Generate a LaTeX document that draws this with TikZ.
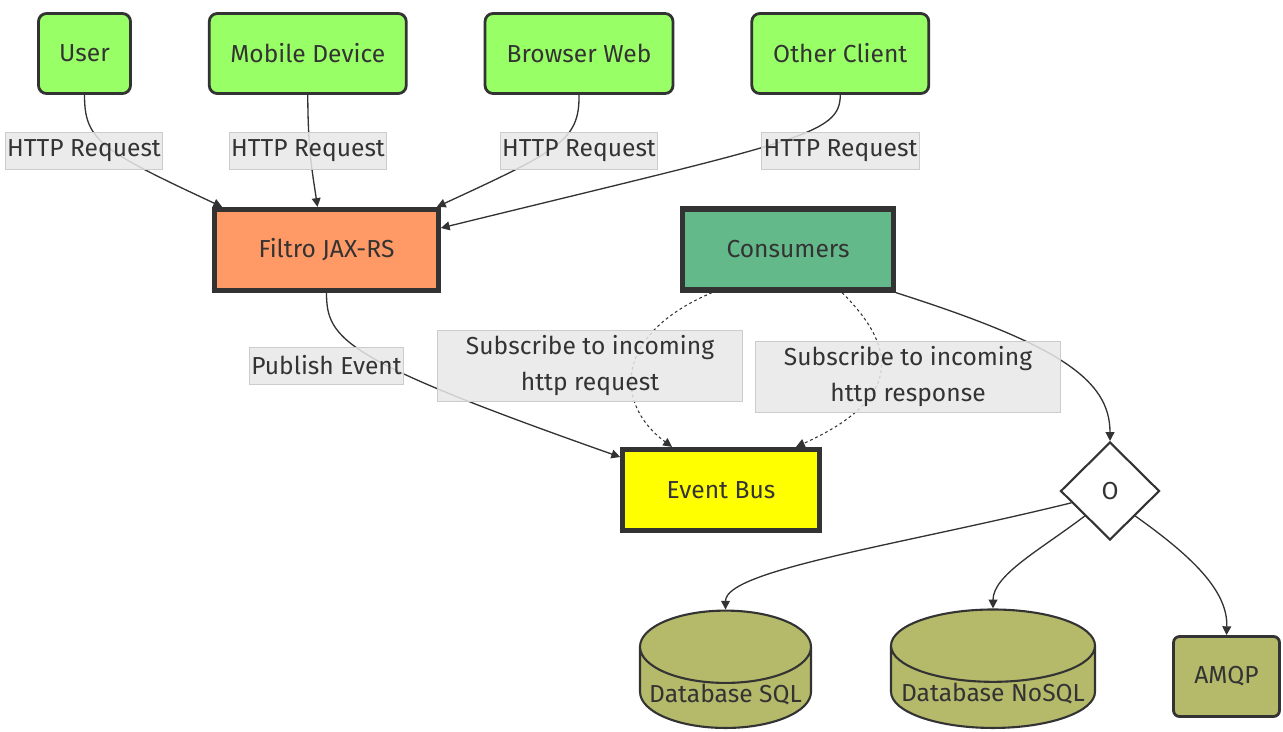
\documentclass[tikz,border=0pt]{standalone}
\usepackage{fontspec}
\setmainfont{Fira Sans}
\usetikzlibrary{arrows.meta, positioning, shapes.geometric}
\definecolor{ink}{HTML}{333333}
\definecolor{clientfill}{HTML}{99FF66}
\definecolor{filterfill}{HTML}{FF9966}
\definecolor{consumerfill}{HTML}{64B98A}
\definecolor{busfill}{HTML}{FFFF00}
\definecolor{storefill}{HTML}{B5B96A}
\definecolor{lblfill}{HTML}{E8E8E8}
\definecolor{lblline}{HTML}{CCCCCC}

\begin{document}
\begin{tikzpicture}[
        x=0.02cm, y=-0.02cm,
        font=\fontsize{14}{20.5}\selectfont,
        text=ink,
        node distance=1.52cm,
        client/.style={draw=ink, line width=1.6pt, fill=clientfill, rounded corners=1.6mm, minimum height=1.6cm},
        core/.style={draw=ink, line width=3pt, minimum height=1.62cm},
        store/.style={cylinder, shape border rotate=90, draw=ink, line width=1.2pt, fill=storefill, minimum height=1.48cm, inner ysep=0pt, anchor=bottom},
        lbl/.style={fill=lblfill, fill opacity=0.85, text opacity=1, draw=lblline, line width=0.5pt, inner xsep=1pt, inner ysep=3pt, minimum height=0.74cm, align=center},
        flow/.style={draw=ink, line width=0.75pt, -{Triangle[length=5pt, width=5pt]}},
        sub/.style={flow, dash pattern=on 1.6pt off 1.6pt, line width=0.6pt}
    ]
        % clients
        \node[client, minimum width=1.84cm] (user) at (84.5,53.5) {User};
        \node[client, minimum width=3.94cm, right=of user] (mobile) {Mobile Device};
        \node[client, minimum width=3.76cm, right=of mobile] (browser) {Browser Web};
        \node[client, minimum width=3.54cm, right=of browser] (other) {Other Client};

        % core
        \node[core, fill=filterfill, minimum width=4.47cm] (filtro) at (326.5,250) {Filtro JAX-RS};
        \node[core, fill=consumerfill, minimum width=4.21cm] (consumers) at (788,249.5) {Consumers};
        \node[core, fill=busfill, minimum width=3.93cm] (bus) at (721,490) {Event Bus};
        \node[diamond, draw=ink, line width=1.2pt, fill=white, inner sep=0pt, minimum width=1.98cm, minimum height=1.96cm] (choice) at (1110,491) {O};

        % storage
        \node[store, aspect=0.44, minimum width=3.42cm] (sql) at (725.5,729) {Database SQL};
        \node[store, aspect=0.37, minimum width=4.08cm] (nosql) at (993,729) {Database NoSQL};
        \node[draw=ink, line width=1.6pt, fill=storefill, rounded corners=1.2mm, minimum width=2.12cm, minimum height=1.6cm] (amqp) at (1226.5,676.5) {AMQP};

        \draw[flow] (user.south) .. controls (84.5,140) and (100,150) .. ([xshift=0.2cm]filtro.north west);
        \draw[flow] (mobile.south) .. controls (308,150) and (312,170) .. ([xshift=-0.18cm]filtro.north);
        \draw[flow] (browser.south) .. controls (579.5,140) and (560,150) .. ([xshift=-0.08cm]filtro.north east);
        \draw[flow] (other.south) .. controls (840,135) and (800,140) .. ([yshift=0.44cm]filtro.east);
        \draw[flow] (filtro.south) .. controls (326.5,340) and (345,360) .. ([yshift=0.66cm]bus.west);
        \draw[sub] ([xshift=-1.52cm]consumers.south) .. controls (612,335) and (615,405) .. ([xshift=-0.98cm]bus.north);
        \draw[sub] ([xshift=1.08cm]consumers.south) .. controls (900,350) and (900,400) .. ([xshift=1.5cm]bus.north);
        \draw[flow] (consumers.south east) .. controls (1060,345) and (1110,380) .. (choice.north);
        \draw[flow] (choice.-163) .. controls (900,545) and (725.5,570) .. (sql.top);
        \draw[flow] (choice.south west) .. controls (1040,550) and (993,575) .. (nosql.top);
        \draw[flow] (choice.south east) .. controls (1190,555) and (1228,590) .. (amqp.north);

        % edge labels
        \node[lbl] (req1) at (84,150.5) {HTTP Request};
        \node[lbl] (req2) at (308,150.5) {HTTP Request};
        \node[lbl] (req3) at (579,150.5) {HTTP Request};
        \node[lbl] (req4) at (840.5,150.5) {HTTP Request};
        \node[lbl] (pub) at (326.5,365.5) {Publish Event};
        \node[lbl, minimum width=6.1cm] (subreq) at (590,365.5) {Subscribe to incoming\\http request};
        \node[lbl, minimum width=6.1cm] (subres) at (908,377) {Subscribe to incoming\\http response};

        \useasboundingbox (0,0) rectangle (1283,731);
    \end{tikzpicture}
\end{document}
